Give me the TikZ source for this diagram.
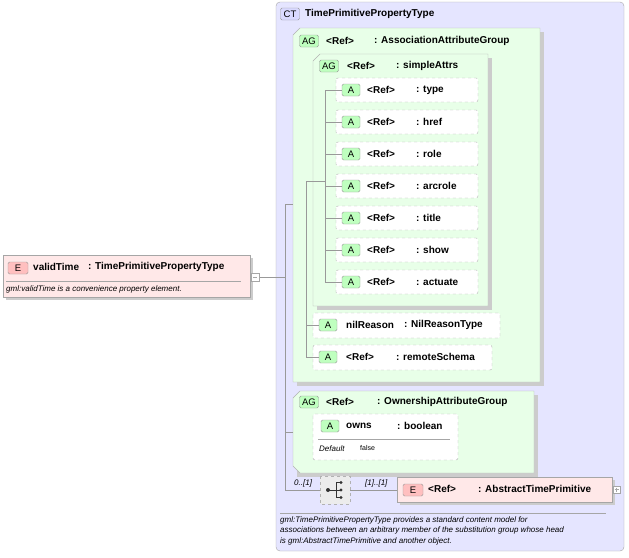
\documentclass[tikz,border=0pt]{standalone}
\usepackage{fontspec}
\setmainfont{Liberation Sans}
\begin{document}
\begin{tikzpicture}[x=1pt,y=-1pt,font=\fontsize{10}{12}\selectfont,
  ctbox/.style={draw=gray!70,fill=blue!10!white,rounded corners=4pt},
  agbox/.style={draw=gray!60,fill=green!9!white},
  abox/.style={draw=gray!60,dashed,fill=white,rounded corners=2pt},
  ebox/.style={draw=gray!70,fill=red!9!white},
  badge/.style={draw=gray!80,rounded corners=1.5pt,inner sep=0pt,minimum height=12pt,font=\fontsize{9.5}{10}\selectfont},
  conn/.style={draw=gray!80,line width=0.5pt},
  lbl/.style={anchor=west,inner sep=0pt,font=\fontsize{10}{12}\selectfont\bfseries},
  it/.style={anchor=west,inner sep=0pt,font=\fontsize{8}{9.5}\selectfont\itshape}]
\useasboundingbox (0,0) rectangle (629,557);
% CT
\path[ctbox] (276,2) rectangle (624,551);
\node[badge,fill=blue!15,minimum width=19pt] (ct) at (290,14) {CT};
\node[lbl] (ctt) at (305,14) {TimePrimitivePropertyType};
% AG1
\fill[gray!40] (297,32) -- (544,32) -- (544,386) -- (297,386) -- cycle;
\path[agbox] (300,28) -- (540,28) -- (540,382) -- (293,382) -- (293,35) -- cycle;
\node[badge,fill=green!25,minimum width=19pt] (ag1) at (309,41) {AG};
\node[lbl] at (326,41) {<Ref>};
\node[lbl] at (374,41) {: AssociationAttributeGroup};
% AG simpleAttrs
\fill[gray!40] (317,58) -- (492,58) -- (492,310) -- (317,310) -- cycle;
\path[agbox] (320,54) -- (488,54) -- (488,306) -- (313,306) -- (313,61) -- cycle;
\node[badge,fill=green!25,minimum width=19pt] (ag2) at (329,66) {AG};
\node[lbl] at (347,66) {<Ref>};
\node[lbl] at (396,66) {: simpleAttrs};
% attributes
\foreach \n/\t/\yy in {a1/type/90,a2/href/122,a3/role/154,a4/arcrole/186,a5/title/218,a6/show/250,a7/actuate/282}{
  \path[abox] (336,\yy-12) rectangle (478,\yy+12);
  \node[badge,fill=green!25,minimum width=18pt] (\n) at (351,\yy) {A};
  \node[lbl] at (367,\yy) {<Ref>};
  \node[lbl] at (416,\yy) {: \t};
  \draw[conn] (325,\yy) -- (\n.west);
}
\draw[conn] (325,90) -- (325,282);
\draw[conn] (306,181) -- (325,181);
% nilReason, remoteSchema
\path[abox] (313,313) rectangle (500,338);
\node[badge,fill=green!25,minimum width=18pt] (nr) at (328,325) {A};
\node[lbl] at (346,325) {nilReason};
\node[lbl] at (404,325) {: NilReasonType};
\path[abox] (313,345) rectangle (492,370);
\node[badge,fill=green!25,minimum width=18pt] (rs) at (328,357) {A};
\node[lbl] at (346,357) {<Ref>};
\node[lbl] at (396,357) {: remoteSchema};
\draw[conn] (306,181) -- (306,357);
\draw[conn] (306,325) -- (nr.west);
\draw[conn] (306,357) -- (rs.west);
% AG ownership
\fill[gray!40] (297,395) -- (538,395) -- (538,477) -- (297,477) -- cycle;
\path[agbox] (300,391) -- (534,391) -- (534,473) -- (300,473) -- (293,466) -- (293,398) -- cycle;
\node[badge,fill=green!25,minimum width=19pt] (ag3) at (309,402) {AG};
\node[lbl] at (326,402) {<Ref>};
\node[lbl] at (377,402) {: OwnershipAttributeGroup};
\path[abox] (313,414) rectangle (458,460);
\node[badge,fill=green!25,minimum width=18pt] (ow) at (330,426) {A};
\node[lbl] at (346,426) {owns};
\node[lbl] at (397,426) {: boolean};
\draw[gray!70] (318,439) -- (450,439);
\node[it] at (319,449) {Default};
\node[anchor=west,inner sep=0pt,font=\fontsize{7}{8}\selectfont] at (360,448) {false};
\draw[conn] (293,432) -- (285,432);
% choice
\path[draw=gray!60,dashed,fill=gray!15] (320,476) rectangle (350,504);
\fill[black!80] (328,490) circle (2) (341,482.5) circle (1.6) (341,490) circle (1.6) (341,497.5) circle (1.6);
\draw[black!80,line width=0.8pt] (328,490) -- (341,490) (336,482.5) -- (336,497.5) (336,482.5) -- (341,482.5) (336,497.5) -- (341,497.5);
\node[it] at (294,483) {0..[1]};
\node[it] at (365,483) {[1]..[1]};
% element abstract
\fill[gray!40] (400,480) rectangle (615,505);
\path[ebox] (397,477) rectangle (612,502);
\node[badge,fill=red!25,minimum width=20pt] (e2) at (413,490) {E};
\node[lbl] at (428,489) {<Ref>};
\node[lbl] at (478,489) {: AbstractTimePrimitive};
\draw[gray!70,fill=white] (613,486) rectangle (620,493);
\draw[gray!70] (614.5,489.5) -- (618.5,489.5) (616.5,487.5) -- (616.5,491.5);
\draw[conn] (350,490) -- (397,490);
% tree
\draw[conn] (259,277) -- (285,277);
\draw[conn] (285,204) -- (285,490) -- (320,490);
\draw[conn] (285,204) -- (293,204);
% description
\draw[gray!70] (280,513) -- (606,513);
\node[anchor=north west,inner sep=0pt,align=left,font=\fontsize{8}{10.8}\selectfont\itshape] at (280,516) {gml:TimePrimitivePropertyType provides a standard content model for\\associations between an arbitrary member of the substitution group whose head\\is gml:AbstractTimePrimitive and another object.};
% validTime
\fill[gray!40] (6,258) rectangle (253,300);
\path[ebox] (3,255) rectangle (250,297);
\node[badge,fill=red!25,minimum width=20pt] (e1) at (18,268) {E};
\node[lbl] at (33,267) {validTime};
\node[lbl] at (88,267) {: TimePrimitivePropertyType};
\draw[gray!70] (6,281) -- (241,281);
\node[it] at (6,289) {gml:validTime is a convenience property element.};
\draw[gray!70,fill=white] (251,273) rectangle (259,281);
\draw[gray!70] (253,277) -- (257,277);
\end{tikzpicture}
\end{document}
